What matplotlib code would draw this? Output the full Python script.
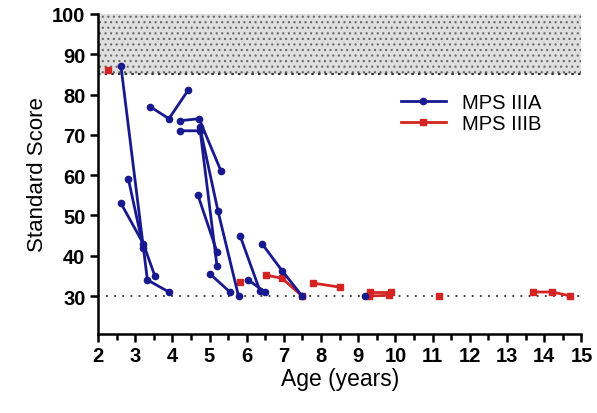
import matplotlib
matplotlib.use("Agg")
import matplotlib.pyplot as plt
from matplotlib.ticker import MultipleLocator

plt.rcParams['font.family'] = ['Liberation Sans', 'DejaVu Sans']
plt.rcParams['hatch.color'] = '#555555'
plt.rcParams['hatch.linewidth'] = 0.8

# MPS IIIA patients (age in years, standard score)
mps_a_ages = [
    [2.62, 3.33, 3.91],
    [2.62, 3.22, 3.53],
    [2.82, 3.22],
    [3.40, 3.91, 4.42],
    [4.21, 4.72, 5.31],
    [4.21, 4.75, 5.20],
    [4.74, 5.23, 5.78],
    [4.69, 5.20],
    [5.01, 5.55],
    [5.82, 6.36],
    [6.04, 6.49],
    [6.41, 6.95, 7.49],
    [9.19],
]
mps_a_scores = [
    [87, 34, 31],
    [53, 43, 35],
    [59, 42],
    [77, 74, 81],
    [73.5, 74, 61],
    [71, 71, 37.5],
    [72, 51, 30],
    [55, 41],
    [35.5, 31],
    [45, 31.2],
    [34, 31],
    [43, 36.3, 30],
    [30],
]

# MPS IIIB patients
mps_b_ages = [
    [2.27],
    [5.82],
    [6.52, 6.95, 7.49],
    [7.79, 8.51],
    [9.32, 9.88],
    [9.30, 9.82],
    [11.18],
    [13.71, 14.22, 14.70],
]
mps_b_scores = [
    [86],
    [33.5],
    [35.2, 34.4, 30],
    [33.2, 32.2],
    [31, 31],
    [30, 30.2],
    [30],
    [31, 31, 30],
]

normal_low, normal_high = 85, 100
floor_score = 30
x_ticks = list(range(2, 16))
y_ticks = list(range(30, 101, 10))

blue = '#18188f'
red = '#d42323'

fig = plt.figure(figsize=(5.97, 4.14), dpi=100)
ax = fig.add_axes([0.164, 0.191, 0.81, 0.773])

ax.fill_between([2, 15], normal_low, normal_high, facecolor='#dedede',
                edgecolor='#666666', hatch='...', linewidth=0, zorder=0)
ax.plot([2, 15], [normal_low, normal_low], color='#333333', lw=1.5,
        linestyle=(0, (1.2, 2.0)), zorder=1)
ax.plot([2, 15], [floor_score, floor_score], color='#333333', lw=1.3,
        linestyle=(0, (1, 3.5)), zorder=1)

for xs, ys in zip(mps_b_ages, mps_b_scores):
    ax.plot(xs, ys, color=red, lw=2, marker='s', ms=5, zorder=3)
for xs, ys in zip(mps_a_ages, mps_a_scores):
    ax.plot(xs, ys, color=blue, lw=2, marker='o', ms=4.5, zorder=4)

ha, = ax.plot([], [], color=blue, lw=2, marker='o', ms=4.5, label='MPS IIIA')
hb, = ax.plot([], [], color=red, lw=2, marker='s', ms=5, label='MPS IIIB')
ax.legend(handles=[ha, hb], loc='upper left', bbox_to_anchor=(0.59, 0.81),
          frameon=False, fontsize=14.5, handlelength=2.2, handletextpad=0.8,
          labelspacing=0.1)

ax.set_xlim(2, 15)
ax.set_ylim(20.6, 100)
ax.set_xticks(x_ticks)
ax.xaxis.set_minor_locator(MultipleLocator(0.5))
ax.set_yticks(y_ticks)
for s in ['top', 'right']:
    ax.spines[s].set_visible(False)
for s in ['left', 'bottom']:
    ax.spines[s].set_linewidth(1.8)
ax.tick_params(axis='both', which='major', length=6, width=1.8, labelsize=14.5, pad=3)
ax.tick_params(axis='x', which='minor', length=4, width=1.8)
for lbl in ax.get_xticklabels() + ax.get_yticklabels():
    lbl.set_fontweight('bold')
ax.set_xlabel('Age (years)', fontsize=16.5, labelpad=1)
ax.set_ylabel('Standard Score', fontsize=16, labelpad=3)

fig.savefig('out.png', dpi=100)
